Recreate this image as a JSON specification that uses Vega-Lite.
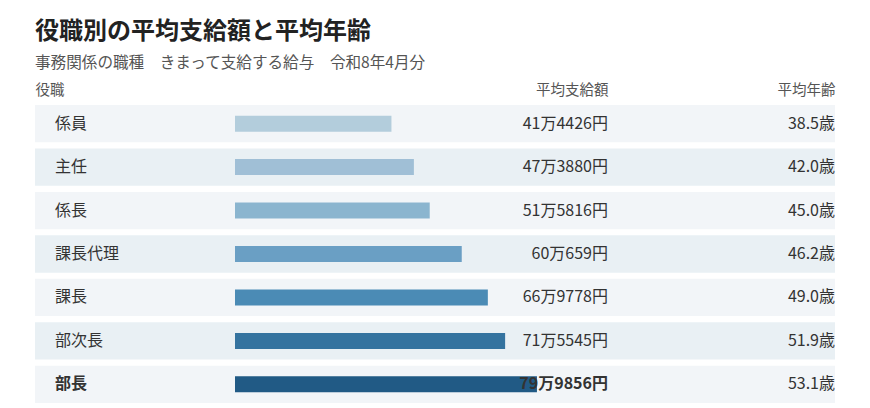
{
  "$schema": "https://vega.github.io/schema/vega-lite/v6.json",
  "padding": {"left": 35, "right": 35, "top": 20, "bottom": 4},
  "bounds": "flush",
  "spacing": 0,
  "config": {
    "font": "Noto Sans CJK JP",
    "view": {"stroke": null},
    "axis": {"domain": false, "ticks": false, "grid": false, "title": null, "labelFontSize": 14.5, "labelColor": "#555", "labelPadding": 8, "labelAngle": 0, "labelOverlap": false, "labelBound": false, "labelFlush": false, "labelLimit": 0}
  },
  "title": {
    "text": "役職別の平均支給額と平均年齢",
    "subtitle": "事務関係の職種　きまって支給する給与　令和8年4月分",
    "anchor": "start",
    "fontSize": 24,
    "fontWeight": "bold",
    "color": "#222",
    "subtitleFontSize": 15.6,
    "subtitleColor": "#555",
    "subtitlePadding": 12,
    "offset": 10
  },
  "data": {
    "values": [
      {"role": "係員", "pay": 414426, "age": 38.5},
      {"role": "主任", "pay": 473880, "age": 42.0},
      {"role": "係長", "pay": 515816, "age": 45.0},
      {"role": "課長代理", "pay": 600659, "age": 46.2},
      {"role": "課長", "pay": 669778, "age": 49.0},
      {"role": "部次長", "pay": 715545, "age": 51.9},
      {"role": "部長", "pay": 799856, "age": 53.1}
    ]
  },
  "transform": [
    {"window": [{"op": "row_number", "as": "rn"}]},
    {"calculate": "floor(datum.pay / 10000) + '万' + (datum.pay % 10000) + '円'", "as": "pay_label"},
    {"calculate": "format(datum.age, '.1f') + '歳'", "as": "age_label"}
  ],
  "hconcat": [
    {
      "width": 200,
      "height": 298,
      "encoding": {
        "y": {"field": "role", "type": "nominal", "sort": null, "axis": null, "scale": {"paddingInner": 0.14, "paddingOuter": 0}}
      },
      "layer": [
        {
          "mark": "rect",
          "encoding": {"fill": {"condition": {"test": "datum.rn % 2 == 1", "value": "#f2f5f8"}, "value": "#e9f0f4"}}
        },
        {
          "mark": {"type": "text", "align": "left", "baseline": "middle", "dx": 20, "fontSize": 16, "color": "#333", "fontWeight": {"expr": "datum.role == '部長' ? 'bold' : 'normal'"}},
          "encoding": {
            "x": {"datum": "役職", "type": "nominal", "scale": {"type": "point", "padding": 0, "align": 0}, "axis": {"orient": "top", "labelAlign": "left"}},
            "text": {"field": "role"}
          }
        }
      ]
    },
    {
      "width": 302,
      "height": 298,
      "encoding": {
        "y": {"field": "role", "type": "nominal", "sort": null, "axis": null, "scale": {"paddingInner": 0.14, "paddingOuter": 0}}
      },
      "layer": [
        {
          "mark": "rect",
          "encoding": {"fill": {"condition": {"test": "datum.rn % 2 == 1", "value": "#f2f5f8"}, "value": "#e9f0f4"}}
        },
        {
          "mark": {"type": "bar", "size": 16},
          "encoding": {
            "x": {"field": "pay", "type": "quantitative", "scale": {"domain": [0, 800000], "nice": false}, "axis": null},
            "color": {
              "field": "role",
              "type": "nominal",
              "sort": null,
              "legend": null,
              "scale": {
                "domain": ["係員", "主任", "係長", "課長代理", "課長", "部次長", "部長"],
                "range": ["#b3cddc", "#a0bfd6", "#8bb5cf", "#6a9fc4", "#4b8bb5", "#34739f", "#215a85"]
              }
            }
          }
        }
      ]
    },
    {
      "width": 71,
      "height": 298,
      "encoding": {
        "y": {"field": "role", "type": "nominal", "sort": null, "axis": null, "scale": {"paddingInner": 0.14, "paddingOuter": 0}}
      },
      "layer": [
        {
          "mark": "rect",
          "encoding": {"fill": {"condition": {"test": "datum.rn % 2 == 1", "value": "#f2f5f8"}, "value": "#e9f0f4"}}
        },
        {
          "mark": {"type": "text", "align": "right", "baseline": "middle", "fontSize": 16, "color": "#333", "fontWeight": {"expr": "datum.role == '部長' ? 'bold' : 'normal'"}},
          "encoding": {
            "x": {"datum": "平均支給額", "type": "nominal", "scale": {"type": "point", "padding": 0, "align": 1}, "axis": {"orient": "top", "labelAlign": "right"}},
            "text": {"field": "pay_label"}
          }
        }
      ]
    },
    {
      "width": 227,
      "height": 298,
      "encoding": {
        "y": {"field": "role", "type": "nominal", "sort": null, "axis": null, "scale": {"paddingInner": 0.14, "paddingOuter": 0}}
      },
      "layer": [
        {
          "mark": "rect",
          "encoding": {"fill": {"condition": {"test": "datum.rn % 2 == 1", "value": "#f2f5f8"}, "value": "#e9f0f4"}}
        },
        {
          "mark": {"type": "text", "align": "right", "baseline": "middle", "fontSize": 16, "color": "#333"},
          "encoding": {
            "x": {"datum": "平均年齢", "type": "nominal", "scale": {"type": "point", "padding": 0, "align": 1}, "axis": {"orient": "top", "labelAlign": "right"}},
            "text": {"field": "age_label"}
          }
        }
      ]
    }
  ]
}
